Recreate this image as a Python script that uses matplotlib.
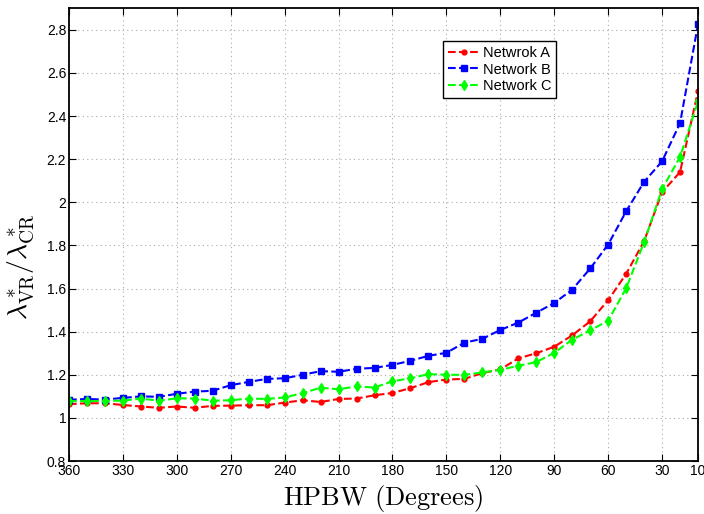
import matplotlib
matplotlib.use('Agg')
import matplotlib.pyplot as plt
from matplotlib.ticker import FormatStrFormatter

plt.rcParams['font.family'] = ['Liberation Sans', 'DejaVu Sans']
plt.rcParams['mathtext.fontset'] = 'cm'

# HPBW in degrees, 360 down to 10
hpbw = [360, 350, 340, 330, 320, 310, 300, 290, 280, 270,
        260, 250, 240, 230, 220, 210, 200, 190, 180, 170,
        160, 150, 140, 130, 120, 110, 100, 90, 80, 70,
        60, 50, 40, 30, 20, 10]

network_a = [1.064, 1.068, 1.068, 1.060, 1.053, 1.047, 1.053, 1.047, 1.056, 1.057,
             1.059, 1.059, 1.071, 1.082, 1.074, 1.088, 1.090, 1.105, 1.116, 1.138,
             1.166, 1.178, 1.181, 1.208, 1.225, 1.276, 1.300, 1.330, 1.383, 1.448,
             1.546, 1.668, 1.820, 2.047, 2.140, 2.515]

network_b = [1.084, 1.088, 1.085, 1.093, 1.100, 1.098, 1.112, 1.122, 1.126, 1.152,
             1.167, 1.181, 1.184, 1.200, 1.217, 1.214, 1.228, 1.232, 1.246, 1.265,
             1.288, 1.302, 1.349, 1.367, 1.408, 1.442, 1.488, 1.533, 1.595, 1.693,
             1.804, 1.958, 2.095, 2.190, 2.367, 2.825]

network_c = [1.078, 1.078, 1.079, 1.080, 1.090, 1.080, 1.091, 1.090, 1.080, 1.082,
             1.090, 1.088, 1.095, 1.115, 1.140, 1.133, 1.146, 1.141, 1.170, 1.184,
             1.203, 1.200, 1.200, 1.211, 1.223, 1.242, 1.259, 1.302, 1.363, 1.406,
             1.451, 1.601, 1.815, 2.062, 2.210, 2.468]

x_ticks = [360, 330, 300, 270, 240, 210, 180, 150, 120, 90, 60, 30, 10]
y_ticks = [0.8, 1.0, 1.2, 1.4, 1.6, 1.8, 2.0, 2.2, 2.4, 2.6, 2.8]

fig = plt.figure(figsize=(7.04, 5.14), dpi=100)
ax = fig.add_axes([0.098, 0.103, 0.8935, 0.881])

ax.plot(hpbw, network_a, color='red', linestyle='--', linewidth=1.5,
        marker='o', markersize=3.5, label='Netwrok A')
ax.plot(hpbw, network_b, color='blue', linestyle='--', linewidth=1.5,
        marker='s', markersize=4.5, label='Network B')
ax.plot(hpbw, network_c, color='#00ff00', linestyle='--', linewidth=1.5,
        marker='d', markersize=5.5, label='Network C')

ax.set_xlim(360, 10)
ax.set_ylim(0.8, 2.9)
ax.set_xticks(x_ticks)
ax.set_yticks(y_ticks)
ax.yaxis.set_major_formatter(FormatStrFormatter('%g'))
ax.tick_params(direction='in', top=True, right=True, labelsize=10, length=5, pad=2)
ax.grid(True, linestyle=(0, (1, 3)), color='#aaaaaa', linewidth=0.8)
for s in ax.spines.values():
    s.set_linewidth(1.3)

ax.set_xlabel(r'$\mathrm{HPBW\ (Degrees)}$', fontsize=19, labelpad=4)
ax.set_ylabel(r'$\lambda^*_{\mathrm{VR}}/\lambda^*_{\mathrm{CR}}$', fontsize=20)
ax.yaxis.set_label_coords(-0.052, 0.43)

leg = ax.legend(loc='upper left', bbox_to_anchor=(0.595, 0.927), fontsize=10.5,
                fancybox=False, edgecolor='black', framealpha=1,
                borderpad=0.3, labelspacing=0.2, handlelength=2.2,
                handletextpad=0.2, borderaxespad=0)
leg.get_frame().set_linewidth(1.0)

fig.savefig('out.png', dpi=100)
